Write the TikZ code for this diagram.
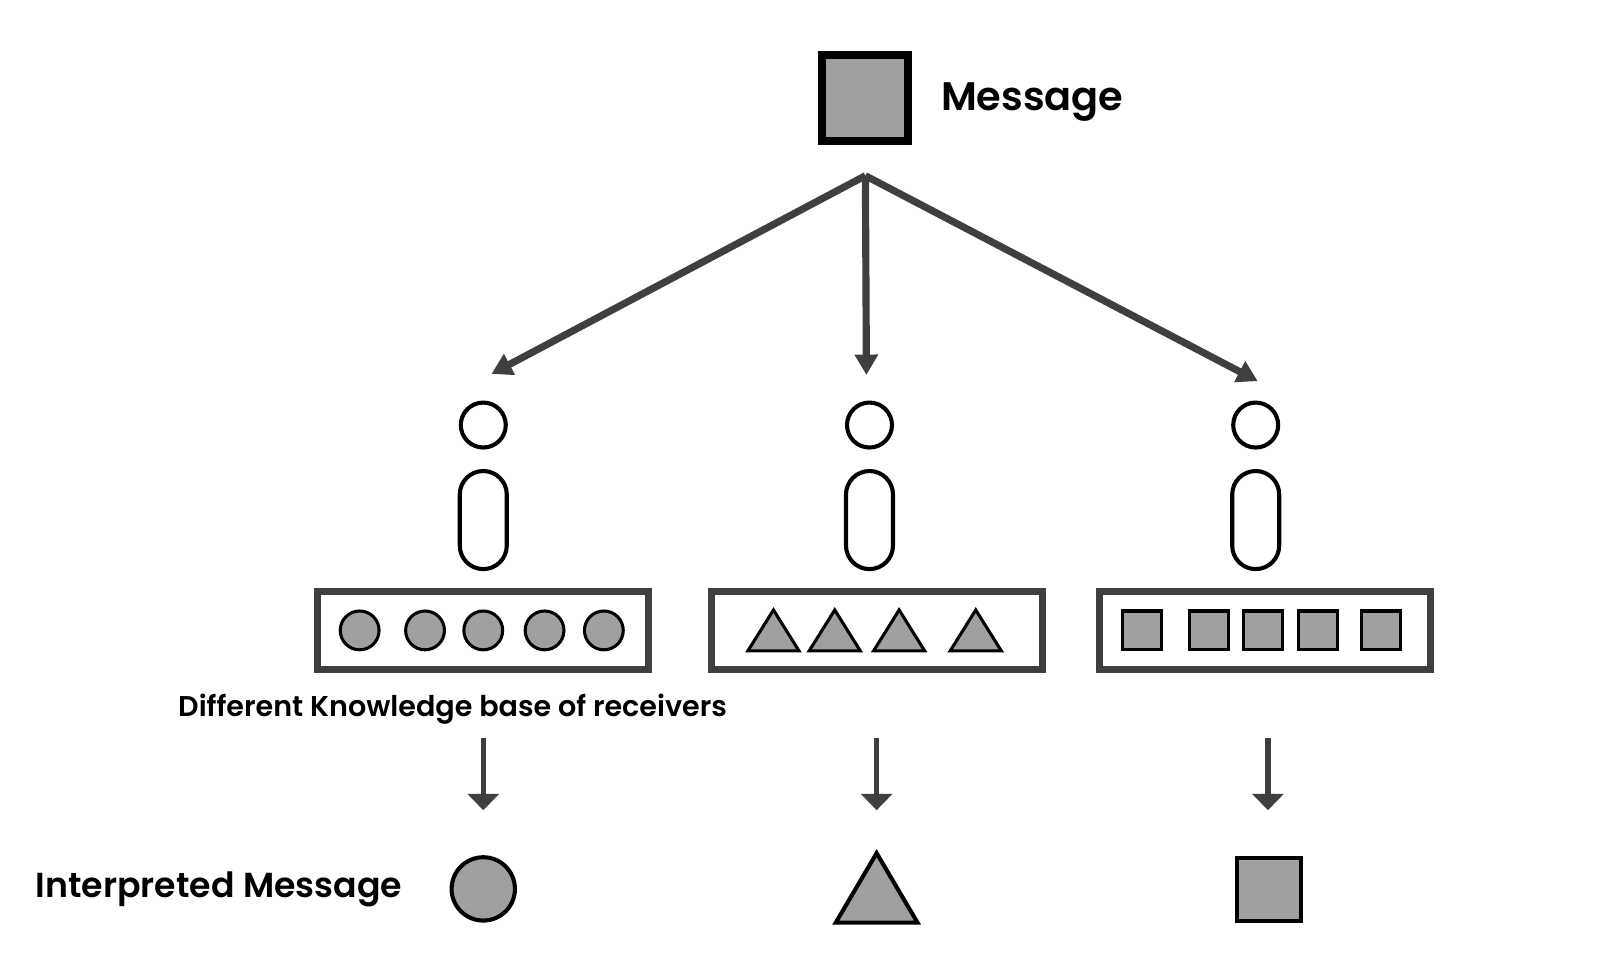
\documentclass[tikz,border=0pt]{standalone}
\usepackage{fontspec}
\setmainfont{Poppins}[BoldFont={Poppins SemiBold}]
\usetikzlibrary{arrows.meta}
\definecolor{dk}{HTML}{3F3F3F}
\definecolor{gr}{HTML}{A0A0A0}
\begin{document}
\begin{tikzpicture}[x=0.5pt,y=-0.5pt,
  arr/.style={draw=dk,line width=3.5pt,-{Triangle[length=10pt,width=11pt]}},
  darr/.style={draw=dk,line width=2.5pt,-{Triangle[length=8pt,width=15pt]}},
  sm/.style={draw=black,line width=1.5pt,fill=gr},
  kb/.style={draw=dk,line width=3.5pt,minimum width=162pt,minimum height=38pt,inner sep=0pt},
  head/.style={circle,draw=black,line width=2pt,minimum size=22pt,inner sep=0pt},
  body/.style={rounded corners=11.5pt,draw=black,line width=2pt,minimum width=23pt,minimum height=48pt,inner sep=0pt}]
\useasboundingbox (0,0) rectangle (1566,953.4);
\node[draw=black,line width=4pt,fill=gr,minimum size=42pt,inner sep=0pt] (msg) at (846.5,96) {};
\node[anchor=west,font=\fontsize{19.5}{24}\selectfont\bfseries] (msgt) at (914,100) {Message};
\coordinate (src) at (847,172);
\foreach \n/\x/\ax/\ay in {a/473/481/366,b/851/848/367,c/1229/1231/373}{
  \coordinate (t\n) at (\ax,\ay);
  \draw[arr] (src) -- (t\n);
  \node[head] (h\n) at (\x,416) {};
  \node[body] (b\n) at (\x,509) {};
}
\node[kb] (ka) at (472.5,617) {};
\node[kb] (kb) at (858.5,617) {};
\node[kb] (kc) at (1238,617) {};
\foreach \x in {352,416,473,533,591} \draw[sm] (\x,617) circle (9.5pt);
\foreach \x in {757,817,880,955} \draw[sm] (\x-25,637) -- (\x,597) -- (\x+25,637) -- cycle;
\foreach \x in {1118,1183,1236,1290,1352} \draw[sm] (\x-19,598) rectangle (\x+19,636);
\node[font=\fontsize{14}{16}\selectfont\bfseries] (kbt) at (443,694) {Different Knowledge base of receivers};
\foreach \n/\x in {a/473,b/858,c/1241}{
  \coordinate (s\n) at (\x,722); \coordinate (e\n) at (\x,793);
  \draw[darr] (s\n) -- (e\n);
}
\node[circle,sm,line width=2pt,minimum size=31pt,inner sep=0pt] (ia) at (473,870) {};
\draw[sm,line width=2pt] (818,903) -- (858,835) -- (898,903) -- cycle;
\node[sm,line width=2pt,minimum size=31pt,inner sep=0pt] (ic) at (1242,870.5) {};
\node[anchor=west,font=\fontsize{17}{20}\selectfont\bfseries] (imt) at (28,870) {Interpreted Message};
\end{tikzpicture}
\end{document}
